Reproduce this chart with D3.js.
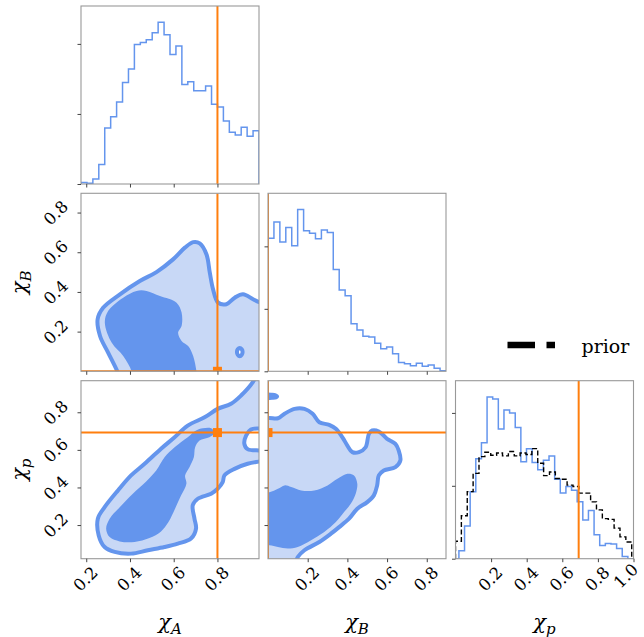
<!DOCTYPE html>
<html><head><meta charset="utf-8">
<script src="https://cdn.jsdelivr.net/npm/d3@7"></script>
<style>body{margin:0;background:#fff}svg{display:block}
svg text{font-family:"DejaVu Serif",serif}</style>
</head><body>
<svg id="c" width="644" height="637"></svg>
<script>
// ---------------- data ----------------
const chiARange = [0.176, 0.99];
const chiBRange = [0, 0.897];
const chiPRange = [0.021, 0.968];
const chiPHistAxis = [0, 1];
const chiATicks = [0.2, 0.4, 0.6, 0.8];
const chiBTicks = [0.2, 0.4, 0.6, 0.8];
const chiPTicks = [0.2, 0.4, 0.6, 0.8];
const chiPHistTicks = [0.2, 0.4, 0.6, 0.8, 1.0];
const densityTicks = [0, 1, 2];

// marginal histograms (density), bins spread evenly across the given bin range
const chiAHistRange = [0.176, 0.99];
const chiAHist = [0.02,0.01,0.07,0.28,0.80,0.96,1.17,1.45,1.64,1.99,2.02,2.06,2.16,2.31,2.13,1.85,1.97,1.42,1.46,1.33,1.33,1.40,1.14,1.10,0.90,0.74,0.70,0.81,0.68,0.76];
const chiBHistRange = [0, 0.897];
const chiBHist = [2.13,2.39,2.07,2.30,2.01,2.59,2.25,2.21,2.12,2.26,2.22,1.63,1.30,1.21,0.76,0.66,0.56,0.55,0.45,0.36,0.39,0.28,0.14,0.12,0.09,0.13,0.08,0.10,0.05,0.01];
const chiPHistRange = [-0.0125, 1.0];
const chiPHist = [0,0.11,0.45,0.92,1.37,1.59,2.22,2.19,1.78,2.04,2.00,1.80,1.33,1.51,1.32,1.22,1.35,1.41,1.09,0.90,0.99,0.94,0.78,0.53,0.66,0.33,0.18,0.21,0.20,0.14,0.03,0];
const chiPPriorRange = [0.0, 0.99];
const chiPPrior = [0.24,0.59,0.92,1.17,1.40,1.46,1.42,1.45,1.41,1.47,1.41,1.45,1.43,1.51,1.31,1.14,1.19,1.10,1.09,1.01,0.99,0.90,0.90,0.78,0.67,0.55,0.54,0.42,0.30,0.23];

// injected values
const truthA = 0.8, truthB = 0.0, truthP = 0.692;

// 2D credible-region outlines [x, y] in data units
const abOuter = [[0.36,-0.05],[0.342,0.0],[0.30,0.094],[0.263,0.178],[0.252,0.262],[0.278,0.321],[0.354,0.388],[0.445,0.455],[0.521,0.50],[0.597,0.564],[0.651,0.623],[0.689,0.651],[0.719,0.645],[0.750,0.589],[0.765,0.497],[0.780,0.413],[0.803,0.346],[0.841,0.338],[0.879,0.371],[0.917,0.388],[0.963,0.363],[0.99,0.349],[1.05,0.34],[1.05,-0.05]];
const abHole = [[0.902,0.118],[0.911,0.111],[0.915,0.097],[0.911,0.083],[0.902,0.076],[0.893,0.083],[0.889,0.097],[0.893,0.111]];
const abInner = [[0.41,-0.05],[0.407,0.0],[0.369,0.077],[0.316,0.145],[0.285,0.245],[0.30,0.304],[0.369,0.371],[0.430,0.405],[0.476,0.405],[0.537,0.379],[0.613,0.346],[0.636,0.296],[0.636,0.228],[0.620,0.195],[0.636,0.153],[0.666,0.127],[0.689,0.077],[0.704,0.0],[0.71,-0.05]];

const apOuter = [[0.975,0.99],[0.961,0.959],[0.908,0.889],[0.862,0.845],[0.801,0.818],[0.741,0.773],[0.664,0.729],[0.604,0.667],[0.542,0.606],[0.467,0.526],[0.405,0.464],[0.345,0.384],[0.284,0.295],[0.253,0.234],[0.257,0.145],[0.284,0.083],[0.330,0.057],[0.405,0.048],[0.482,0.066],[0.558,0.083],[0.619,0.101],[0.679,0.128],[0.702,0.181],[0.695,0.234],[0.687,0.305],[0.710,0.340],[0.771,0.367],[0.801,0.393],[0.824,0.428],[0.832,0.464],[0.878,0.499],[0.938,0.526],[0.992,0.538],[1.05,0.545],[1.05,1.05],[0.99,1.05]];
const apHole = [[1.04,0.714],[0.992,0.714],[0.953,0.708],[0.931,0.676],[0.923,0.632],[0.938,0.604],[0.992,0.597],[1.04,0.597]];
const apInner = [[0.733,0.715],[0.771,0.715],[0.786,0.691],[0.763,0.667],[0.718,0.650],[0.698,0.614],[0.692,0.561],[0.672,0.508],[0.652,0.464],[0.658,0.420],[0.634,0.358],[0.606,0.287],[0.576,0.216],[0.542,0.166],[0.489,0.131],[0.421,0.110],[0.353,0.113],[0.307,0.136],[0.291,0.181],[0.307,0.234],[0.353,0.295],[0.413,0.367],[0.474,0.432],[0.520,0.490],[0.558,0.561],[0.604,0.614],[0.664,0.667],[0.702,0.703]];

const bpOuter = [[-0.05,0.770],[0.007,0.770],[0.050,0.768],[0.0835,0.792],[0.1335,0.818],[0.1835,0.818],[0.225,0.792],[0.2585,0.747],[0.3085,0.733],[0.342,0.712],[0.375,0.667],[0.400,0.623],[0.425,0.588],[0.4585,0.588],[0.492,0.614],[0.5085,0.685],[0.525,0.703],[0.5585,0.698],[0.600,0.659],[0.642,0.632],[0.6585,0.597],[0.667,0.543],[0.642,0.508],[0.5835,0.490],[0.5585,0.464],[0.550,0.411],[0.5335,0.358],[0.500,0.322],[0.450,0.287],[0.4085,0.234],[0.3585,0.189],[0.317,0.154],[0.2585,0.110],[0.1835,0.066],[0.150,0.030],[0.12,-0.05],[-0.05,-0.05]];
const bpIsland = [[-0.03,0.892],[0.02,0.893],[0.04,0.889],[0.046,0.884],[0.04,0.879],[0.02,0.877],[-0.03,0.877]];
const bpInner = [[-0.05,0.375],[0.007,0.375],[0.050,0.393],[0.0835,0.411],[0.117,0.402],[0.167,0.384],[0.2335,0.384],[0.300,0.411],[0.350,0.446],[0.400,0.473],[0.4335,0.464],[0.450,0.420],[0.442,0.367],[0.417,0.313],[0.3835,0.269],[0.342,0.216],[0.2835,0.163],[0.217,0.119],[0.150,0.083],[0.100,0.075],[0.050,0.083],[0.007,0.092],[-0.05,0.092]];

const legendLabel = "prior";

// ---------------- layout ----------------
const S = 178;
const colX = [81, 268, 455.5];
const rowY = [6, 193.3, 380.7];
const BLUE = "#6495ED", LIGHT = "#c8d8f6", ORANGE = "#ff7f0e";
const FONT = "DejaVu Serif";

const svg = d3.select("#c");
const defs = svg.append("defs");

const xA = d3.scaleLinear().domain(chiARange).range([colX[0], colX[0]+S]);
const xB = d3.scaleLinear().domain(chiBRange).range([colX[1], colX[1]+S]);
const xP = d3.scaleLinear().domain(chiPHistAxis).range([colX[2], colX[2]+S]);
const yB = d3.scaleLinear().domain(chiBRange).range([rowY[1]+S, rowY[1]]);
const yP = d3.scaleLinear().domain(chiPRange).range([rowY[2]+S, rowY[2]]);

let clipId = 0;
function panel(c, r) {
  const id = "clip" + (clipId++);
  defs.append("clipPath").attr("id", id).append("rect")
    .attr("x", colX[c]).attr("y", rowY[r]).attr("width", S).attr("height", S);
  const g = svg.append("g");
  const inner = g.append("g").attr("clip-path", `url(#${id})`);
  return {g, inner, x0: colX[c], y0: rowY[r]};
}
function frame(p) {
  p.g.append("rect").attr("x", p.x0).attr("y", p.y0).attr("width", S).attr("height", S)
    .attr("fill", "none").attr("stroke", "#999").attr("stroke-width", 1.1);
}
function axis(p, orient, scale, ticks, labeled) {
  const gen = (orient === "bottom" ? d3.axisBottom(scale) : d3.axisLeft(scale))
    .tickValues(ticks).tickSize(3.5).tickPadding(0)
    .tickFormat(labeled ? d3.format(".1f") : () => "");
  const pos = orient === "bottom" ? `translate(0,${p.y0+S})` : `translate(${p.x0},0)`;
  const g = p.g.append("g").attr("transform", pos).call(gen);
  g.attr("font-family", null).attr("font-size", null);
  g.select(".domain").remove();
  g.selectAll(".tick line").attr("stroke", "#444").attr("stroke-width", 1);
  if (labeled) {
    const t = g.selectAll(".tick text").attr("fill", "#000")
      .style("font-family", FONT).style("font-size", "16.5px")
      .attr("x", 0).attr("y", 0).attr("dy", null).attr("dx", null)
      .attr("text-anchor", "middle").attr("dominant-baseline", "central");
    if (orient === "bottom") t.attr("transform", d => `translate(${d >= 1 ? -8 : -1},${(d >= 1 ? 576 : 579)-(p.y0+S)}) rotate(-45)`);
    else t.attr("transform", `translate(${56-p.x0},0) rotate(-45)`);
  }
}
function histPath(values, range, xs, ys) {
  const n = values.length, w = (range[1]-range[0]) / n;
  const pts = [[range[0], 0]];
  values.forEach((v, i) => { pts.push([range[0]+i*w, v]); pts.push([range[0]+(i+1)*w, v]); });
  pts.push([range[1], 0]);
  return d3.line().x(d => xs(d[0])).y(d => ys(d[1]))(pts);
}
function smooth(xs, ys) {
  return d3.line().x(d => xs(d[0])).y(d => ys(d[1])).curve(d3.curveCatmullRomClosed.alpha(0.5));
}
function contour(p, xs, ys, outerParts, inner) {
  const ln = smooth(xs, ys);
  const outerD = outerParts.map(ln).join(" ");
  p.inner.append("path").attr("d", outerD).attr("fill", LIGHT).attr("fill-rule", "evenodd").attr("stroke", "none");
  p.inner.append("path").attr("d", ln(inner)).attr("fill", BLUE).attr("stroke", "none");
  p.inner.append("path").attr("d", outerD).attr("fill", "none").attr("stroke", BLUE).attr("stroke-width", 4);
}
function vline(p, x) {
  p.inner.append("line").attr("x1", x).attr("x2", x).attr("y1", p.y0).attr("y2", p.y0+S)
    .attr("stroke", ORANGE).attr("stroke-width", 2);
}
function hline(p, y) {
  p.inner.append("line").attr("x1", p.x0).attr("x2", p.x0+S).attr("y1", y).attr("y2", y)
    .attr("stroke", ORANGE).attr("stroke-width", 2);
}
function marker(p, x, y) {
  p.inner.append("rect").attr("x", x-4.5).attr("y", y-4.5).attr("width", 9).attr("height", 9).attr("fill", ORANGE);
}

// ---- (1,1) chiA histogram
{
  const p = panel(0, 0);
  const ys = d3.scaleLinear().domain([0, 1.1*d3.max(chiAHist)]).range([p.y0+S, p.y0]);
  p.inner.append("path").attr("d", histPath(chiAHist, chiAHistRange, xA, ys))
    .attr("fill", "none").attr("stroke", BLUE).attr("stroke-width", 1.5);
  vline(p, xA(truthA));
  frame(p);
  axis(p, "bottom", xA, chiATicks, false);
  axis(p, "left", ys, densityTicks, false);
}
// ---- (2,1) chiA vs chiB
{
  const p = panel(0, 1);
  contour(p, xA, yB, [abOuter, abHole], abInner);
  vline(p, xA(truthA)); hline(p, yB(truthB)); marker(p, xA(truthA), yB(truthB));
  frame(p);
  axis(p, "bottom", xA, chiATicks, false);
  axis(p, "left", yB, chiBTicks, true);
}
// ---- (2,2) chiB histogram
{
  const p = panel(1, 1);
  const ys = d3.scaleLinear().domain([0, 1.1*d3.max(chiBHist)]).range([p.y0+S, p.y0]);
  p.inner.append("path").attr("d", histPath(chiBHist, chiBHistRange, xB, ys))
    .attr("fill", "none").attr("stroke", BLUE).attr("stroke-width", 1.5);
  vline(p, xB(truthB));
  frame(p);
  axis(p, "bottom", xB, chiBTicks, false);
  axis(p, "left", ys, densityTicks, false);
}
// ---- (3,1) chiA vs chiP
{
  const p = panel(0, 2);
  contour(p, xA, yP, [apOuter, apHole], apInner);
  vline(p, xA(truthA)); hline(p, yP(truthP)); marker(p, xA(truthA), yP(truthP));
  frame(p);
  axis(p, "bottom", xA, chiATicks, true);
  axis(p, "left", yP, chiPTicks, true);
}
// ---- (3,2) chiB vs chiP
{
  const p = panel(1, 2);
  contour(p, xB, yP, [bpOuter, bpIsland], bpInner);
  vline(p, xB(truthB)); hline(p, yP(truthP)); marker(p, xB(truthB), yP(truthP));
  frame(p);
  axis(p, "bottom", xB, chiBTicks, true);
  axis(p, "left", yP, chiPTicks, false);
}
// ---- (3,3) chiP histogram with prior
{
  const p = panel(2, 2);
  const ys = d3.scaleLinear().domain([0, 1.1*d3.max(chiPHist)]).range([p.y0+S, p.y0]);
  p.inner.append("path").attr("d", histPath(chiPHist, chiPHistRange, xP, ys))
    .attr("fill", "none").attr("stroke", BLUE).attr("stroke-width", 1.5);
  p.inner.append("path").attr("d", histPath(chiPPrior, chiPPriorRange, xP, ys))
    .attr("fill", "none").attr("stroke", "#000").attr("stroke-width", 1.4).attr("stroke-dasharray", "5,2.5");
  vline(p, xP(truthP));
  frame(p);
  axis(p, "bottom", xP, chiPHistTicks, true);
  axis(p, "left", ys, densityTicks, false);
}

// ---- legend
svg.append("line").attr("x1", 507.5).attr("x2", 555).attr("y1", 345).attr("y2", 345)
  .attr("stroke", "#000").attr("stroke-width", 6.5).attr("stroke-dasharray", "27.5,11.5");
svg.append("text").attr("x", 581.5).attr("y", 353)
  .style("font-family", FONT).style("font-size", "19px")
  .text(legendLabel);

// ---- axis labels
function mathLabel(x, y, sub, rot) {
  const t = svg.append("text").style("font-family", FONT).style("font-size", "21px").style("font-style", "italic")
    .attr("text-anchor", "middle")
    .attr("transform", `translate(${x},${y})` + (rot ? ` rotate(${rot})` : ""));
  t.append("tspan").text("χ");
  t.append("tspan").style("font-size", "15px").attr("dy", 5).text(sub);
}
mathLabel((colX[0]+colX[0]+S)/2, 629, "A");
mathLabel((colX[1]+colX[1]+S)/2, 629, "B");
mathLabel((colX[2]+colX[2]+S)/2, 629, "p");
mathLabel(26, rowY[1]+S/2, "B", -90);
mathLabel(26, rowY[2]+S/2, "p", -90);
</script></body></html>
